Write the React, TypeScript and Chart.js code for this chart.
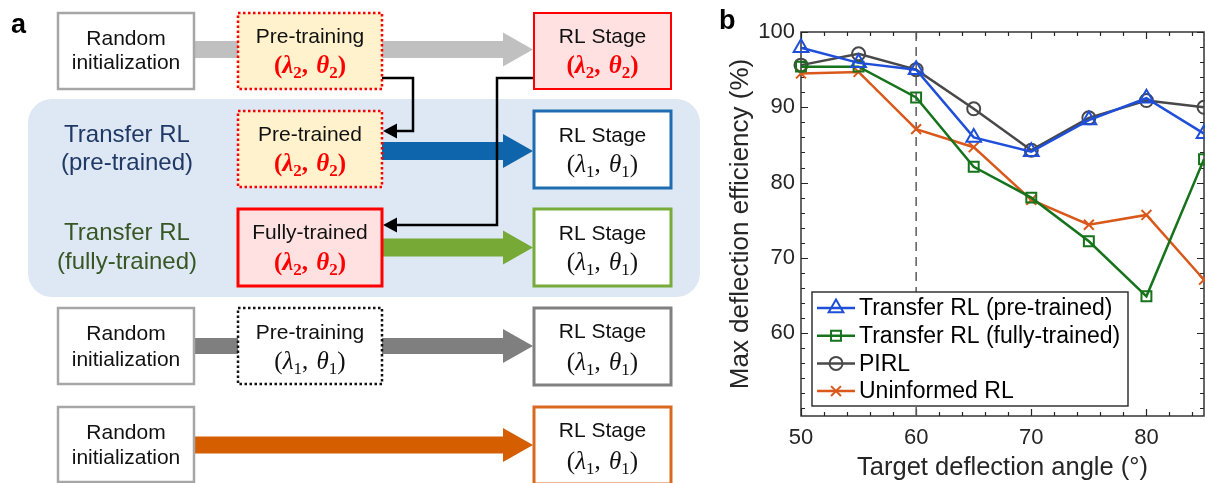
import React, { useEffect, useRef } from 'react';
import { Chart, registerables } from 'chart.js';
import { drawPoint } from 'chart.js/helpers';

Chart.register(...registerables);

// ---------- data (panel b) ----------
const angles = [50, 55, 60, 65, 70, 75, 80, 85];
const transferPretrained = [97.9, 95.9, 95.0, 86.0, 84.1, 88.3, 91.2, 86.5];
const transferFully = [95.4, 95.4, 91.3, 82.1, 78.0, 72.2, 64.9, 83.1];
const pirl = [95.6, 97.1, 95.0, 89.8, 84.3, 88.6, 90.9, 90.0];
const uninformed = [94.5, 94.7, 87.1, 84.7, 77.7, 74.4, 75.7, 67.1];
const seriesLabels = [
  'Transfer RL (pre-trained)',
  'Transfer RL (fully-trained)',
  'PIRL',
  'Uninformed RL',
];
const xTickValues = [50, 60, 70, 80];
const yTickValues = [60, 70, 80, 90, 100];
const xMin = 50;
const xMax = 85;
const yMin = 49;
const yMax = 100;
const refAngle = 60;
const xTitle = 'Target deflection angle (°)';
const yTitle = 'Max deflection efficiency (%)';

const SANS = '"Liberation Sans", Arial, sans-serif';
const SERIF = '"Liberation Serif", "Times New Roman", serif';
const AXIS = '#262626';

// ---------- helpers for panel a ----------
function roundRect(ctx: CanvasRenderingContext2D, x0: number, y0: number, x1: number, y1: number, r: number) {
  ctx.beginPath();
  ctx.moveTo(x0 + r, y0);
  ctx.lineTo(x1 - r, y0);
  ctx.arcTo(x1, y0, x1, y0 + r, r);
  ctx.lineTo(x1, y1 - r);
  ctx.arcTo(x1, y1, x1 - r, y1, r);
  ctx.lineTo(x0 + r, y1);
  ctx.arcTo(x0, y1, x0, y1 - r, r);
  ctx.lineTo(x0, y0 + r);
  ctx.arcTo(x0, y0, x0 + r, y0, r);
  ctx.closePath();
}

function box(ctx: CanvasRenderingContext2D, x0: number, y0: number, x1: number, y1: number, fill: string, stroke: string, lw: number, dash: number[] = []) {
  ctx.save();
  ctx.fillStyle = fill;
  ctx.fillRect(x0, y0, x1 - x0, y1 - y0);
  ctx.strokeStyle = stroke;
  ctx.lineWidth = lw;
  ctx.setLineDash(dash);
  ctx.strokeRect(x0, y0, x1 - x0, y1 - y0);
  ctx.restore();
}

function fatArrow(ctx: CanvasRenderingContext2D, x0: number, x1: number, cy: number, shaft: number, headLen: number, headH: number, color: string) {
  ctx.save();
  ctx.fillStyle = color;
  ctx.fillRect(x0, cy - shaft / 2, x1 - headLen - x0 + 1, shaft);
  ctx.beginPath();
  ctx.moveTo(x1 - headLen, cy - headH / 2);
  ctx.lineTo(x1, cy);
  ctx.lineTo(x1 - headLen, cy + headH / 2);
  ctx.closePath();
  ctx.fill();
  ctx.restore();
}

// polyline ending in a small arrowhead whose tip is at the last point
function connector(ctx: CanvasRenderingContext2D, pts: number[][]) {
  const tip = pts[pts.length - 1];
  const headLen = 14;
  ctx.save();
  ctx.strokeStyle = '#000';
  ctx.lineWidth = 2.5;
  ctx.lineJoin = 'miter';
  ctx.beginPath();
  ctx.moveTo(pts[0][0], pts[0][1]);
  for (let i = 1; i < pts.length - 1; i++) ctx.lineTo(pts[i][0], pts[i][1]);
  ctx.lineTo(tip[0] + headLen, tip[1]);
  ctx.stroke();
  ctx.fillStyle = '#000';
  ctx.beginPath();
  ctx.moveTo(tip[0], tip[1]);
  ctx.lineTo(tip[0] + headLen, tip[1] - 7.5);
  ctx.lineTo(tip[0] + headLen, tip[1] + 7.5);
  ctx.closePath();
  ctx.fill();
  ctx.restore();
}

function text(ctx: CanvasRenderingContext2D, t: string, x: number, y: number, size: number, color: string) {
  ctx.save();
  ctx.font = `${size}px ${SANS}`;
  ctx.fillStyle = color;
  ctx.textAlign = 'center';
  ctx.textBaseline = 'middle';
  ctx.fillText(t, x, y);
  ctx.restore();
}

function mathPair(ctx: CanvasRenderingContext2D, cx: number, cy: number, sub: string, color: string, bold: boolean) {
  const w = bold ? 'bold ' : '';
  const parts = [
    { t: '(', f: `${w}25px ${SERIF}`, dy: 0 },
    { t: 'λ', f: `italic ${w}25px ${SERIF}`, dy: 0 },
    { t: sub, f: `${w}17px ${SERIF}`, dy: 5 },
    { t: ', ', f: `${w}25px ${SERIF}`, dy: 0 },
    { t: 'θ', f: `italic ${w}25px ${SERIF}`, dy: 0 },
    { t: sub, f: `${w}17px ${SERIF}`, dy: 5 },
    { t: ')', f: `${w}25px ${SERIF}`, dy: 0 },
  ];
  ctx.save();
  let total = 0;
  const widths = parts.map((p) => {
    ctx.font = p.f;
    const m = ctx.measureText(p.t).width + (p.t === ', ' ? 2 : 0);
    total += m;
    return m;
  });
  let x = cx - total / 2;
  ctx.fillStyle = color;
  ctx.textAlign = 'left';
  ctx.textBaseline = 'alphabetic';
  parts.forEach((p, i) => {
    ctx.font = p.f;
    ctx.fillText(p.t, x, cy + 8 + p.dy);
    x += widths[i];
  });
  ctx.restore();
}

const diagramPlugin = {
  id: 'diagram',
  afterDraw(chart: any) {
    const ctx: CanvasRenderingContext2D = chart.ctx;
    ctx.save();
    // panel letters
    ctx.fillStyle = '#000';
    ctx.font = `bold 27px ${SANS}`;
    ctx.textAlign = 'left';
    ctx.textBaseline = 'alphabetic';
    ctx.fillText('a', 11, 33);
    ctx.fillText('b', 719, 29);

    // transfer RL background
    roundRect(ctx, 28, 99, 700, 297, 24);
    ctx.fillStyle = '#dde8f4';
    ctx.fill();

    // thick arrows
    fatArrow(ctx, 194, 533, 49.5, 17, 30, 34, '#c0c0c0');
    fatArrow(ctx, 382, 533, 151, 18, 30, 34, '#0e65ab');
    fatArrow(ctx, 382, 533, 247.5, 18, 30, 34, '#76a935');
    fatArrow(ctx, 194, 533, 346, 16, 30, 34, '#7f7f7f');
    fatArrow(ctx, 194, 533, 445, 17, 30, 34, '#d45e00');

    // black connectors
    connector(ctx, [[382, 78], [413, 78], [413, 131], [383, 131]]);
    connector(ctx, [[534, 78], [497, 78], [497, 225], [383, 225]]);

    const yellow = '#fff2cc';
    const pink = '#ffe1e1';
    const red = '#ff0000';
    const dots = [2.5, 2.5];

    // row 1
    box(ctx, 58, 13, 194, 89, '#fff', '#a6a6a6', 2.5);
    text(ctx, 'Random', 126, 39, 21, '#111');
    text(ctx, 'initialization', 126, 63, 21, '#111');
    box(ctx, 238, 13, 382, 89, yellow, red, 2.5, dots);
    text(ctx, 'Pre-training', 310, 37, 21, '#111');
    mathPair(ctx, 310, 65, '2', red, true);
    box(ctx, 534, 13, 671, 89, pink, red, 2);
    text(ctx, 'RL Stage', 602.5, 37, 21, '#111');
    mathPair(ctx, 602.5, 65, '2', red, true);

    // row 2
    text(ctx, 'Transfer RL', 127, 135, 24, '#1f3864');
    text(ctx, '(pre-trained)', 127, 163, 24, '#1f3864');
    box(ctx, 238, 111, 382, 187, yellow, red, 2.5, dots);
    text(ctx, 'Pre-trained', 310, 135, 21, '#111');
    mathPair(ctx, 310, 163, '2', red, true);
    box(ctx, 534, 111, 671, 188, '#fff', '#1f6db0', 3);
    text(ctx, 'RL Stage', 602.5, 136, 21, '#111');
    mathPair(ctx, 602.5, 164, '1', '#111', false);

    // row 3
    text(ctx, 'Transfer RL', 127, 233, 24, '#375623');
    text(ctx, '(fully-trained)', 127, 262, 24, '#375623');
    box(ctx, 238, 209, 382, 286, pink, red, 3);
    text(ctx, 'Fully-trained', 310, 233, 21, '#111');
    mathPair(ctx, 310, 262, '2', red, true);
    box(ctx, 534, 209, 671, 286, '#fff', '#77ab3a', 3);
    text(ctx, 'RL Stage', 602.5, 234, 21, '#111');
    mathPair(ctx, 602.5, 262, '1', '#111', false);

    // row 4
    box(ctx, 58, 308, 194, 384, '#fff', '#a6a6a6', 2.5);
    text(ctx, 'Random', 126, 334, 21, '#111');
    text(ctx, 'initialization', 126, 360, 21, '#111');
    box(ctx, 238, 308, 382, 384, '#fff', '#111', 2.5, dots);
    text(ctx, 'Pre-training', 310, 333, 21, '#111');
    mathPair(ctx, 310, 361, '1', '#111', false);
    box(ctx, 534, 308, 671, 385, '#fff', '#808080', 3);
    text(ctx, 'RL Stage', 602.5, 332, 21, '#111');
    mathPair(ctx, 602.5, 362, '1', '#111', false);

    // row 5
    box(ctx, 58, 407, 194, 482, '#fff', '#a6a6a6', 2.5);
    text(ctx, 'Random', 126, 433, 21, '#111');
    text(ctx, 'initialization', 126, 458, 21, '#111');
    box(ctx, 534, 407, 671, 484, '#fff', '#d9691f', 3);
    text(ctx, 'RL Stage', 602.5, 431, 21, '#111');
    mathPair(ctx, 602.5, 461, '1', '#111', false);

    ctx.restore();
  },
};

const framePlugin = {
  id: 'frame',
  beforeDatasetsDraw(chart: any) {
    const { ctx, chartArea } = chart;
    const { left, right, top, bottom } = chartArea;
    const xs = chart.scales.x;
    const ys = chart.scales.y;
    ctx.save();
    ctx.strokeStyle = AXIS;
    ctx.lineWidth = 1.4;
    ctx.strokeRect(left, top, right - left, bottom - top);
    ctx.beginPath();
    for (let v = xMin; v <= xMax + 1e-9; v += 2) {
      const px = Math.round(xs.getPixelForValue(v)) + 0.5;
      const len = xTickValues.includes(v) ? 7 : 4;
      ctx.moveTo(px, bottom);
      ctx.lineTo(px, bottom - len);
      ctx.moveTo(px, top);
      ctx.lineTo(px, top + len);
    }
    for (let v = 50; v <= yMax + 1e-9; v += 2) {
      const py = Math.round(ys.getPixelForValue(v)) + 0.5;
      const len = yTickValues.includes(v) ? 7 : 4;
      ctx.moveTo(left, py);
      ctx.lineTo(left + len, py);
      ctx.moveTo(right, py);
      ctx.lineTo(right - len, py);
    }
    ctx.lineWidth = 1.2;
    ctx.stroke();
    ctx.restore();
  },
};

const legendPlugin = {
  id: 'insideLegend',
  afterDatasetsDraw(chart: any) {
    const ctx: CanvasRenderingContext2D = chart.ctx;
    const { left } = chart.chartArea;
    const x0 = left + 11;
    const y0 = 292;
    const w = 316;
    const h = 114;
    ctx.save();
    ctx.fillStyle = '#fff';
    ctx.fillRect(x0, y0, w, h);
    ctx.strokeStyle = AXIS;
    ctx.lineWidth = 1.4;
    ctx.strokeRect(x0, y0, w, h);
    const items = chart.data.datasets.filter((d: any) => !d.hideInLegend);
    items.forEach((d: any, i: number) => {
      const y = y0 + 16 + i * 27.7;
      ctx.strokeStyle = d.borderColor;
      ctx.lineWidth = d.borderWidth;
      ctx.setLineDash([]);
      ctx.beginPath();
      ctx.moveTo(x0 + 5, y);
      ctx.lineTo(x0 + 43, y);
      ctx.stroke();
      ctx.fillStyle = 'rgba(0,0,0,0)';
      ctx.strokeStyle = d.borderColor;
      ctx.lineWidth = d.pointBorderWidth;
      drawPoint(ctx, { pointStyle: d.pointStyle, radius: d.pointRadius, borderWidth: d.pointBorderWidth, rotation: 0 } as any, x0 + 24, y);
      ctx.fillStyle = '#000';
      ctx.font = `23px ${SANS}`;
      ctx.textAlign = 'left';
      ctx.textBaseline = 'middle';
      ctx.fillText(d.label, x0 + 47, y + 1);
    });
    ctx.restore();
  },
};

function series(label: string, values: number[], color: string, style: string, radius: number) {
  return {
    label,
    data: angles.map((a, i) => ({ x: a, y: values[i] })),
    borderColor: color,
    backgroundColor: color,
    pointBorderColor: color,
    pointBackgroundColor: 'rgba(0,0,0,0)',
    pointStyle: style,
    pointRadius: radius,
    pointBorderWidth: 2,
    borderWidth: 2.5,
    tension: 0,
    clip: false,
  };
}

export default function App() {
  const ref = useRef<HTMLCanvasElement>(null);
  useEffect(() => {
    const canvas = ref.current;
    if (!canvas) return;
    const chart = new Chart(canvas, {
      type: 'line',
      data: {
        datasets: [
          series(seriesLabels[0], transferPretrained, '#1f4fd8', 'triangle', 8.5),
          series(seriesLabels[1], transferFully, '#16731c', 'rect', 7),
          series(seriesLabels[2], pirl, '#484848', 'circle', 6.5),
          series(seriesLabels[3], uninformed, '#d9581a', 'crossRot', 7),
          {
            label: 'ref',
            hideInLegend: true,
            data: [
              { x: refAngle, y: yMin },
              { x: refAngle, y: yMax },
            ],
            borderColor: '#5a5a5a',
            borderDash: [9, 6],
            borderWidth: 1.5,
            pointRadius: 0,
          } as any,
        ],
      },
      options: {
        responsive: false,
        animation: false,
        layout: { autoPadding: false, padding: { left: 725, right: 1, top: 32, bottom: 0 } },
        plugins: {
          legend: { display: false },
          tooltip: { enabled: false },
        },
        scales: {
          x: {
            type: 'linear',
            min: xMin,
            max: xMax,
            grid: { display: false, drawTicks: false },
            border: { display: false },
            afterBuildTicks: (s: any) => {
              s.ticks = xTickValues.map((v) => ({ value: v }));
            },
            afterFit: (s: any) => {
              s.height = 67;
            },
            ticks: {
              autoSkip: false,
              maxRotation: 0,
              padding: 9,
              color: AXIS,
              font: { family: SANS, size: 22 },
            },
            title: {
              display: true,
              text: xTitle,
              color: AXIS,
              font: { family: SANS, size: 25.5 },
              padding: { top: 0, bottom: 0 },
            },
          },
          y: {
            type: 'linear',
            min: yMin,
            max: yMax,
            grid: { display: false, drawTicks: false },
            border: { display: false },
            afterBuildTicks: (s: any) => {
              s.ticks = yTickValues.map((v) => ({ value: v }));
            },
            afterFit: (s: any) => {
              s.width = 76;
            },
            ticks: {
              autoSkip: false,
              padding: 6,
              color: AXIS,
              font: { family: SANS, size: 22 },
            },
            title: {
              display: true,
              text: yTitle,
              color: AXIS,
              font: { family: SANS, size: 26 },
              padding: { top: 0, bottom: 0 },
            },
          },
        },
      },
      plugins: [framePlugin, legendPlugin, diagramPlugin],
    } as any);
    return () => chart.destroy();
  }, []);

  return (
    <div style={{ position: 'absolute', left: 0, top: 0, width: 1205, height: 483, background: '#fff' }}>
      <canvas ref={ref} width={1205} height={483} style={{ display: 'block' }} />
    </div>
  );
}
